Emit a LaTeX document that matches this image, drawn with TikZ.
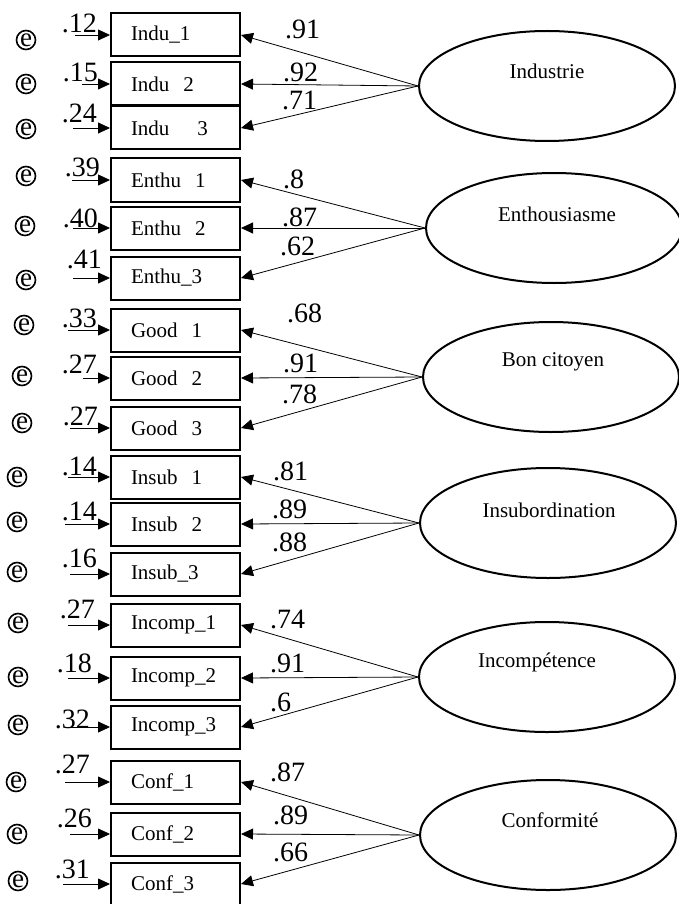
\documentclass[tikz,border=0pt]{standalone}
\usepackage{fontspec}
\setmainfont{Liberation Serif}
\usetikzlibrary{shapes.geometric, arrows.meta, positioning}

\begin{document}
\begin{tikzpicture}[x=1pt, y=-1pt,
    item/.style={draw, line width=2pt, rectangle, minimum width=129pt, minimum height=43pt,
        inner xsep=20pt, inner ysep=0pt, text width=89pt, align=left, font=\fontsize{21}{24}\selectfont},
    latent/.style={draw, line width=2pt, ellipse, minimum width=256pt, minimum height=110pt, inner sep=0pt},
    latenttext/.style={inner sep=0pt, font=\fontsize{21}{25}\selectfont},
    err/.style={draw, circle, line width=1.6pt, minimum size=19pt, inner sep=0pt, font=\fontsize{27}{28}\selectfont},
    coef/.style={inner sep=0pt, font=\fontsize{28}{30}\selectfont},
    load/.style={-{Triangle[length=12pt, width=11pt]}, line width=0.8pt},
    ]
    \useasboundingbox (0,0) rectangle (679,904);

    % Industrie items
    \node [item] (indu1) at (175.5,35) {Indu\_1};
    \node [item] (indu2) at (175.5,84) {Indu~~2};
    \node [item] (indu3) at (175.5,128) {Indu~~~~3};

    % Enthousiasme items
    \node [item] (enthu1) at (175.5,180) {Enthu~~1};
    \node [item] (enthu2) at (175.5,228) {Enthu~~2};
    \node [item] (enthu3) at (175.5,278) {Enthu\_3};

    % Bon citoyen items
    \node [item] (good1) at (175.5,330) {Good~~1};
    \node [item] (good2) at (175.5,378) {Good~~2};
    \node [item] (good3) at (175.5,428) {Good~~3};

    % Insubordination items
    \node [item] (insub1) at (175.5,477) {Insub~~1};
    \node [item] (insub2) at (175.5,524) {Insub~~2};
    \node [item] (insub3) at (175.5,574) {Insub\_3};

    % Incompetence items
    \node [item] (incomp1) at (175.5,625) {Incomp\_1};
    \node [item] (incomp2) at (175.5,678) {Incomp\_2};
    \node [item] (incomp3) at (175.5,727) {Incomp\_3};

    % Conformite items
    \node [item] (conf1) at (175.5,782) {Conf\_1};
    \node [item] (conf2) at (175.5,834) {Conf\_2};
    \node [item] (conf3) at (175.5,884) {Conf\_3};

    % Error terms
    \node [err] (e1) at (26,40) {e};
    \node [err] (e2) at (26,84) {e};
    \node [err] (e3) at (26,129) {e};
    \node [err] (e4) at (26,176) {e};
    \node [err] (e5) at (25,226) {e};
    \node [err] (e6) at (26,280) {e};
    \node [err] (e7) at (24,325) {e};
    \node [err] (e8) at (22,376) {e};
    \node [err] (e9) at (22,423) {e};
    \node [err] (e10) at (17,477) {e};
    \node [err] (e11) at (17,522) {e};
    \node [err] (e12) at (17,572) {e};
    \node [err] (e13) at (18,623) {e};
    \node [err] (e14) at (18,677) {e};
    \node [err] (e15) at (18,725) {e};
    \node [err] (e16) at (16,782) {e};
    \node [err] (e17) at (17,834) {e};
    \node [err] (e18) at (18,881) {e};

    % Error arrow starts
    \coordinate (a1) at (75,35);
    \coordinate (a2) at (82,84);
    \coordinate (a3) at (73,128);
    \coordinate (a4) at (72,180);
    \coordinate (a5) at (73,228);
    \coordinate (a6) at (73,278);
    \coordinate (a7) at (68,330);
    \coordinate (a8) at (83,378);
    \coordinate (a9) at (70,428);
    \coordinate (a10) at (68,477);
    \coordinate (a11) at (65,524);
    \coordinate (a12) at (70,574);
    \coordinate (a13) at (68,625);
    \coordinate (a14) at (68,678);
    \coordinate (a15) at (67,727);
    \coordinate (a16) at (65,782);
    \coordinate (a17) at (70,834);
    \coordinate (a18) at (63,884);

    % Error variances
    \node [coef, anchor=base east] (r1) at (97,33) {.12};
    \node [coef, anchor=base east] (r2) at (98,82) {.15};
    \node [coef, anchor=base east] (r3) at (97,123) {.24};
    \node [coef, anchor=base east] (r4) at (100,177) {.39};
    \node [coef, anchor=base east] (r5) at (98,227) {.40};
    \node [coef, anchor=base east] (r6) at (102,268) {.41};
    \node [coef, anchor=base east] (r7) at (97,327) {.33};
    \node [coef, anchor=base east] (r8) at (97,373) {.27};
    \node [coef, anchor=base east] (r9) at (98,425) {.27};
    \node [coef, anchor=base east] (r10) at (97,475) {.14};
    \node [coef, anchor=base east] (r11) at (97,520) {.14};
    \node [coef, anchor=base east] (r12) at (97,567) {.16};
    \node [coef, anchor=base east] (r13) at (95,618) {.27};
    \node [coef, anchor=base east] (r14) at (92,672) {.18};
    \node [coef, anchor=base east] (r15) at (90,728) {.32};
    \node [coef, anchor=base east] (r16) at (90,773) {.27};
    \node [coef, anchor=base east] (r17) at (92,827) {.26};
    \node [coef, anchor=base east] (r18) at (90,878) {.31};

    % Latent factors
    \node [latent] (industrie) at (547,86) {};
    \node [latent] (enthou) at (554,228) {};
    \node [latent] (boncit) at (551,377) {};
    \node [latent] (insubord) at (548,523) {};
    \node [latent] (incompet) at (547,677) {};
    \node [latent] (conform) at (548,835) {};
    \node [latenttext] (industrieT) at (547,71) {Industrie};
    \node [latenttext] (enthouT) at (557,214) {Enthousiasme};
    \node [latenttext] (boncitT) at (553,362) {Bon citoyen};
    \node [latenttext] (insubordT) at (549,510) {Insubordination};
    \node [latenttext] (incompetT) at (537,662) {Incompétence};
    \node [latenttext] (conformT) at (550,820) {Conformité};

    % Loadings
    \node [coef, anchor=west] (l1) at (285,29) {.91};
    \node [coef, anchor=west] (l2) at (283,72) {.92};
    \node [coef, anchor=west] (l3) at (282,100) {.71};
    \node [coef, anchor=west] (l4) at (283,179) {.8};
    \node [coef, anchor=west] (l5) at (282,217) {.87};
    \node [coef, anchor=west] (l6) at (280,246) {.62};
    \node [coef, anchor=west] (l7) at (287,313) {.68};
    \node [coef, anchor=west] (l8) at (283,363) {.91};
    \node [coef, anchor=west] (l9) at (282,394) {.78};
    \node [coef, anchor=west] (l10) at (273,471) {.81};
    \node [coef, anchor=west] (l11) at (272,509) {.89};
    \node [coef, anchor=west] (l12) at (272,542) {.88};
    \node [coef, anchor=west] (l13) at (270,619) {.74};
    \node [coef, anchor=west] (l14) at (270,663) {.91};
    \node [coef, anchor=west] (l15) at (270,702) {.6};
    \node [coef, anchor=west] (l16) at (270,772) {.87};
    \node [coef, anchor=west] (l17) at (273,815) {.89};
    \node [coef, anchor=west] (l18) at (273,852) {.66};

    % Connections
    \draw[load] (a1) -- (indu1.west);
    \draw[load] (a2) -- (indu2.west);
    \draw[load] (a3) -- (indu3.west);
    \draw[load] (a4) -- (enthu1.west);
    \draw[load] (a5) -- (enthu2.west);
    \draw[load] (a6) -- (enthu3.west);
    \draw[load] (a7) -- (good1.west);
    \draw[load] (a8) -- (good2.west);
    \draw[load] (a9) -- (good3.west);
    \draw[load] (a10) -- (insub1.west);
    \draw[load] (a11) -- (insub2.west);
    \draw[load] (a12) -- (insub3.west);
    \draw[load] (a13) -- (incomp1.west);
    \draw[load] (a14) -- (incomp2.west);
    \draw[load] (a15) -- (incomp3.west);
    \draw[load] (a16) -- (conf1.west);
    \draw[load] (a17) -- (conf2.west);
    \draw[load] (a18) -- (conf3.west);

    \draw[load] (industrie.west) -- (indu1.east);
    \draw[load] (industrie.west) -- (indu2.east);
    \draw[load] (industrie.west) -- (indu3.east);
    \draw[load] (enthou.west) -- (enthu1.east);
    \draw[load] (enthou.west) -- (enthu2.east);
    \draw[load] (enthou.west) -- (enthu3.east);
    \draw[load] (boncit.west) -- (good1.east);
    \draw[load] (boncit.west) -- (good2.east);
    \draw[load] (boncit.west) -- (good3.east);
    \draw[load] (insubord.west) -- (insub1.east);
    \draw[load] (insubord.west) -- (insub2.east);
    \draw[load] (insubord.west) -- (insub3.east);
    \draw[load] (incompet.west) -- (incomp1.east);
    \draw[load] (incompet.west) -- (incomp2.east);
    \draw[load] (incompet.west) -- (incomp3.east);
    \draw[load] (conform.west) -- (conf1.east);
    \draw[load] (conform.west) -- (conf2.east);
    \draw[load] (conform.west) -- (conf3.east);
\end{tikzpicture}
\end{document}
